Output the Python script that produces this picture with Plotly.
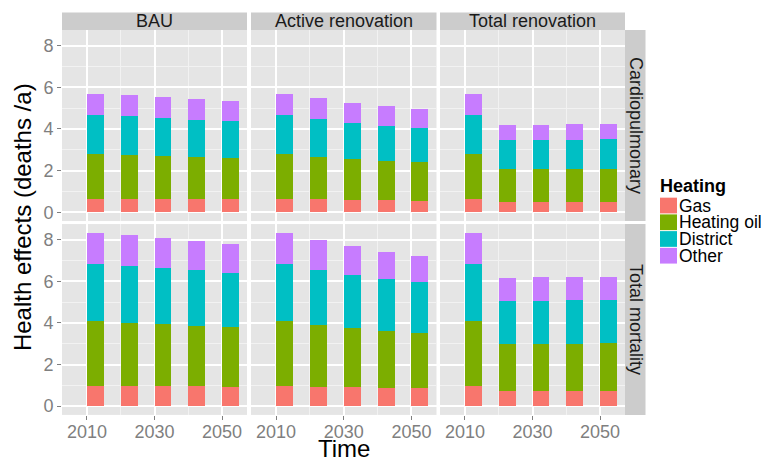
import plotly.graph_objects as go

# ---------------- data ----------------
years = [2010, 2020, 2030, 2040, 2050]
scenarios = ["BAU", "Active renovation", "Total renovation"]
outcomes = ["Cardiopulmonary", "Total mortality"]
heating = ["Gas", "Heating oil", "District", "Other"]
heating_colors = ["#F8766D", "#7CAE00", "#00BFC4", "#C77CFF"]

# each list of lists: [Gas, Heating oil, District, Other] per year
cardio_bau = [
    [0.64, 0.64, 0.63, 0.63, 0.63],
    [2.14, 2.11, 2.05, 2.02, 1.97],
    [1.90, 1.86, 1.84, 1.80, 1.77],
    [1.01, 1.00, 0.99, 0.98, 0.97],
]
cardio_active = [
    [0.64, 0.63, 0.61, 0.59, 0.56],
    [2.14, 2.04, 1.96, 1.89, 1.85],
    [1.90, 1.80, 1.72, 1.68, 1.64],
    [1.01, 1.00, 0.95, 0.92, 0.90],
]
cardio_total = [
    [0.64, 0.48, 0.48, 0.48, 0.48],
    [2.14, 1.58, 1.58, 1.59, 1.61],
    [1.90, 1.40, 1.40, 1.40, 1.41],
    [1.01, 0.75, 0.75, 0.77, 0.76],
]
mort_bau = [
    [0.98, 0.96, 0.95, 0.95, 0.93],
    [3.11, 3.05, 2.98, 2.91, 2.88],
    [2.75, 2.74, 2.69, 2.66, 2.60],
    [1.49, 1.46, 1.44, 1.40, 1.39],
]
mort_active = [
    [0.98, 0.93, 0.90, 0.87, 0.85],
    [3.11, 2.98, 2.85, 2.75, 2.68],
    [2.75, 2.64, 2.56, 2.49, 2.42],
    [1.49, 1.43, 1.37, 1.31, 1.28],
]
mort_total = [
    [0.98, 0.72, 0.72, 0.72, 0.72],
    [3.11, 2.26, 2.28, 2.29, 2.32],
    [2.75, 2.08, 2.06, 2.07, 2.07],
    [1.49, 1.09, 1.13, 1.12, 1.12],
]
panels = [[cardio_bau, cardio_active, cardio_total],
          [mort_bau, mort_active, mort_total]]

y_ticks = [0, 2, 4, 6, 8]
y_minor = [1, 3, 5, 7]
x_ticks = [2010, 2030, 2050]
x_minor = [2020, 2040]

# ---------------- layout geometry ----------------
# page body has an 8px default margin; the figure is sized to fill the rest
OFF = 8
W, H = 769 - OFF, 465 - OFF
def X(px):
    return (px - OFF) / W
def Y(py):
    return 1 - (py - OFF) / H

col_px = [(62, 247), (251, 436.5), (440, 625)]
row_px = [(30, 222), (225, 416.7)]
FONT = "Liberation Sans, Arial, Helvetica, sans-serif"

fig = go.Figure()
layout = dict(
    width=W, height=H, margin=dict(l=0, r=0, t=0, b=0),
    paper_bgcolor="white", plot_bgcolor="#E5E5E5",
    barmode="stack", showlegend=False,
    font=dict(family=FONT),
)

for r in range(2):
    for c in range(3):
        idx = r * 3 + c + 1
        xn = "x" if idx == 1 else f"x{idx}"
        yn = "y" if idx == 1 else f"y{idx}"
        data = panels[r][c]
        for k, name in enumerate(heating):
            fig.add_trace(go.Bar(
                x=years, y=data[k], name=name, xaxis=xn, yaxis=yn,
                width=5, offset=0,
                marker=dict(color=heating_colors[k], line=dict(width=0)),
                showlegend=False,
            ))
        xkey = "xaxis" if idx == 1 else f"xaxis{idx}"
        ykey = "yaxis" if idx == 1 else f"yaxis{idx}"
        layout[xkey] = dict(
            domain=[X(col_px[c][0]), X(col_px[c][1])], anchor=yn,
            range=[2002.6, 2057.4], tickmode="array", tickvals=x_ticks,
            showticklabels=(r == 1), ticks="outside" if r == 1 else "",
            ticklen=4, tickwidth=1, tickcolor="#7F7F7F",
            ticklabelstandoff=-4,
            tickfont=dict(size=18, color="#7F7F7F", family=FONT),
            showgrid=True, gridcolor="white", gridwidth=1.6,
            minor=dict(tickvals=x_minor, showgrid=True, gridcolor="#F2F2F2",
                       gridwidth=0.8, ticks=""),
            zeroline=False, showline=False, fixedrange=True,
        )
        layout[ykey] = dict(
            domain=[Y(row_px[r][1]), Y(row_px[r][0])], anchor=xn,
            range=[-0.42, 8.75], tickmode="array", tickvals=y_ticks,
            showticklabels=(c == 0), ticks="outside" if c == 0 else "",
            ticklen=4, tickwidth=1, tickcolor="#7F7F7F",
            tickfont=dict(size=18, color="#7F7F7F", family=FONT),
            showgrid=True, gridcolor="white", gridwidth=1.6,
            minor=dict(tickvals=y_minor, showgrid=True, gridcolor="#F2F2F2",
                       gridwidth=0.8, ticks=""),
            zeroline=False, showline=False, fixedrange=True,
        )

shapes = []
annotations = []
STRIP = "#CCCCCC"
# top strips
for c, name in enumerate(scenarios):
    x0, x1 = col_px[c]
    shapes.append(dict(type="rect", xref="paper", yref="paper",
                       x0=X(x0), x1=X(x1), y0=Y(30), y1=Y(12.5),
                       fillcolor=STRIP, line=dict(width=0), layer="below"))
    annotations.append(dict(text=name, xref="paper", yref="paper",
                            x=X((x0 + x1) / 2), y=Y(21.5), showarrow=False,
                            xanchor="center", yanchor="middle",
                            font=dict(size=18, color="#1A1A1A", family=FONT)))
# right strips
for r, name in enumerate(outcomes):
    y0, y1 = row_px[r]
    shapes.append(dict(type="rect", xref="paper", yref="paper",
                       x0=X(625), x1=X(645.5), y0=Y(y1), y1=Y(y0),
                       fillcolor=STRIP, line=dict(width=0), layer="below"))
    annotations.append(dict(text=name, xref="paper", yref="paper",
                            x=X(635.5), y=Y((y0 + y1) / 2), showarrow=False,
                            textangle=90, xanchor="center", yanchor="middle",
                            font=dict(size=18, color="#1A1A1A", family=FONT)))

# axis titles
annotations.append(dict(text="Health effects (deaths /a)", xref="paper", yref="paper",
                        x=X(22), y=Y(218), showarrow=False, textangle=-90,
                        xanchor="center", yanchor="middle",
                        font=dict(size=24, color="black", family=FONT)))
annotations.append(dict(text="Time", xref="paper", yref="paper",
                        x=X(343.5), y=Y(464.5), showarrow=False,
                        xanchor="center", yanchor="bottom", borderpad=0,
                        font=dict(size=24, color="black", family=FONT)))

# legend (drawn)
annotations.append(dict(text="<b>Heating</b>", xref="paper", yref="paper",
                        x=X(658), y=Y(187), showarrow=False,
                        xanchor="left", yanchor="middle",
                        font=dict(size=18, color="black", family=FONT)))
key_top = 198
key_h = 16.8
for k, name in enumerate(heating):
    t = key_top + k * key_h
    shapes.append(dict(type="rect", xref="paper", yref="paper",
                       x0=X(660), x1=X(677), y0=Y(t + key_h - 0.5), y1=Y(t + 0.5),
                       fillcolor=heating_colors[k], line=dict(width=0)))
    annotations.append(dict(text=name, xref="paper", yref="paper",
                            x=X(678), y=Y(t + key_h / 2), showarrow=False,
                            xanchor="left", yanchor="middle", borderpad=0,
                            font=dict(size=17.5, color="black", family=FONT)))

layout["shapes"] = shapes
layout["annotations"] = annotations
fig.update_layout(**layout)
fig.write_html("out.html")
